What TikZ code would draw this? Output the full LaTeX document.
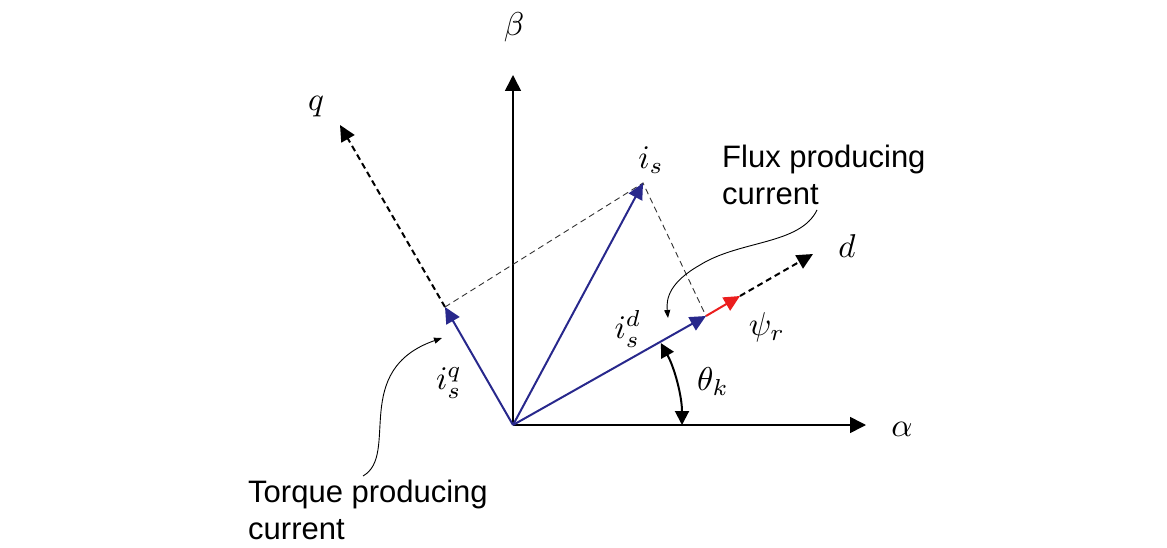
\documentclass[tikz,border=0pt]{standalone}
\usepackage{fontspec}
\setmainfont{Liberation Sans}
\usetikzlibrary{arrows.meta}
\definecolor{vblue}{RGB}{40,40,140}
\definecolor{vred}{RGB}{235,30,30}
\newcommand{\mathlab}[1]{\scalebox{3.3}{$#1$}}
\begin{document}
\begin{tikzpicture}[x=1pt,y=-1pt,
  axisarrow/.style={line width=1.6pt,-{Triangle[length=16pt,width=16pt]}},
  vecarrow/.style={vblue,line width=2pt,-{Triangle[length=16pt,width=15pt]}},
  fluxarrow/.style={vred,line width=2pt,-{Triangle[length=16pt,width=15pt]}},
  dashaxis/.style={line width=2pt,dash pattern=on 6pt off 4pt,-{Triangle[length=16pt,width=15pt]}},
  projline/.style={line width=0.9pt,dash pattern=on 6pt off 4pt,black!80},
  notearrow/.style={line width=0.9pt,-{Triangle[length=8pt,width=6pt]}},
  anglearrow/.style={line width=2pt,{Triangle[length=14pt,width=14pt]}-{Triangle[length=14pt,width=14pt]}},
  mlab/.style={inner sep=0pt,font=\fontsize{10}{12}\selectfont},
  txt/.style={inner sep=0pt,align=left,font=\fontsize{31}{37}\selectfont}]
\useasboundingbox (0,0) rectangle (1167,548);
% key points
\coordinate (O) at (513,425);
\coordinate (A) at (866,425);
\coordinate (B) at (513,75);
\coordinate (Q) at (340,125);
\coordinate (IQ) at (445,307);
\coordinate (IS) at (643,183);
\coordinate (ID) at (706,316);
\coordinate (PSI) at (740,296);
\coordinate (D) at (813,254);
% axes
\draw[axisarrow] (O) -- (A);
\draw[axisarrow] (O) -- (B);
\draw[dashaxis] (IQ) -- (Q);
\draw[dashaxis] (PSI) -- (D);
% projections
\draw[projline] (IQ) -- (IS) -- (ID);
% vectors
\draw[vecarrow] (O) -- (IQ);
\draw[vecarrow] (O) -- (IS);
\draw[vecarrow] (O) -- (ID);
\draw[fluxarrow] (ID) -- (PSI);
% angle
\draw[anglearrow] ([shift={(0:169)}]O) arc[start angle=0,end angle=-29,radius=169];
% labels
\node[mlab] (lbeta) at (514,27) {\mathlab{\beta}};
\node[mlab] (lalpha) at (902,429) {\mathlab{\alpha}};
\node[mlab] (lq) at (316,107) {\mathlab{q}};
\node[mlab] (ld) at (847,246) {\mathlab{d}};
\node[mlab] (lis) at (651,160) {\mathlab{i_s}};
\node[mlab] (lisd) at (628,329) {\mathlab{i_s^d}};
\node[mlab] (lisq) at (449,383) {\mathlab{i_s^q}};
\node[mlab] (lpsi) at (767,327) {\mathlab{\psi_r}};
\node[mlab] (ltheta) at (713,382) {\mathlab{\theta_k}};
% notes
\node[txt,anchor=north west] (flux) at (722,145) {Flux producing\\current};
\node[txt,anchor=north west] (torque) at (248,480) {Torque producing\\current};
\coordinate (fs) at (817,210);
\coordinate (fe) at (668,318);
\coordinate (ts) at (363,476);
\coordinate (te) at (442,338);
\draw[notearrow] (fs) .. controls (800,245) and (740,240) .. (700,265)
                      .. controls (670,282) and (666,298) .. (fe);
\draw[notearrow] (ts) .. controls (400,455) and (350,370) .. (te);
\end{tikzpicture}
\end{document}
